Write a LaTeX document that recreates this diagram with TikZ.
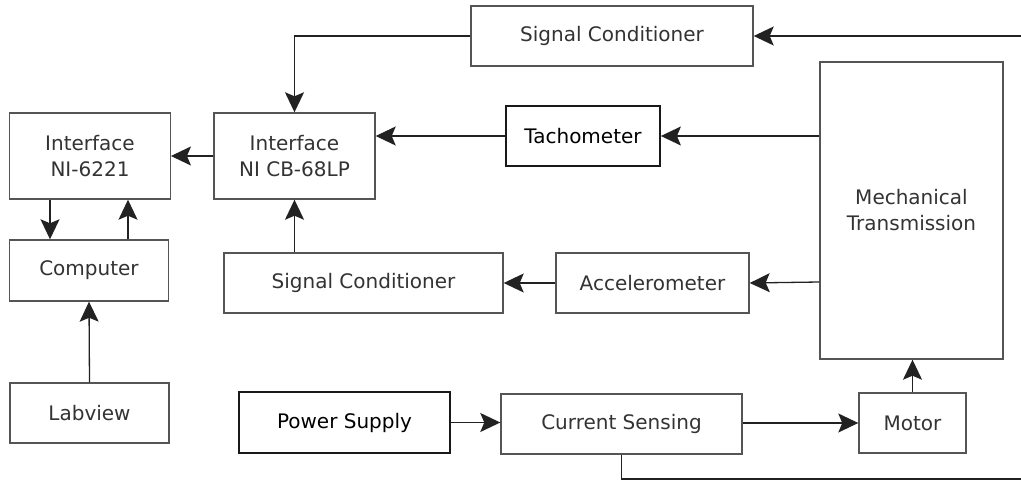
\documentclass[tikz,border=0pt]{standalone}
\usepackage{fontspec}
\setmainfont{DejaVu Sans}
\usetikzlibrary{arrows.meta,calc}
\definecolor{boxc}{HTML}{555555}
\definecolor{txtc}{HTML}{333333}
\definecolor{linec}{HTML}{222222}
\tikzset{
  blk/.style={draw=boxc,line width=1.4pt,rectangle,inner sep=0pt,text=txtc,align=center,
    font=\fontsize{20}{26}\selectfont},
  blkdark/.style={blk,draw=black!90,line width=1.8pt,text=black},
  conn/.style={draw=linec,line width=1.3pt,-{Stealth[length=20pt,width=19pt,inset=4pt]}},
  plain/.style={draw=linec,line width=1.3pt}
}
\begin{document}
\begin{tikzpicture}[x=1pt,y=-1pt]
\useasboundingbox[fill=white] (0,0) rectangle (1021,481);
\node[blk,minimum width=282pt,minimum height=60pt] (sctop) at (612,36) {Signal Conditioner};
\node[blk,minimum width=183pt,minimum height=297pt] (mt) at (911.5,210.5) {Mechanical\\Transmission};
\node[blkdark,minimum width=154pt,minimum height=60pt] (tach) at (583,136) {Tachometer};
\node[blk,minimum width=193pt,minimum height=60pt] (acc) at (652.5,283) {Accelerometer};
\node[blk,minimum width=160.5pt,minimum height=86pt] (ni) at (90,156) {Interface\\NI-6221};
\node[blk,minimum width=161pt,minimum height=86pt] (cb) at (294.5,156) {Interface\\NI CB-68LP};
\node[blk,minimum width=158.5pt,minimum height=61pt] (comp) at (89,270.5) {Computer};
\node[blk,minimum width=279pt,minimum height=60pt] (scbot) at (363.5,283) {Signal Conditioner};
\node[blk,minimum width=159pt,minimum height=60pt] (lab) at (89.5,413) {Labview};
\node[blkdark,minimum width=211pt,minimum height=61pt] (ps) at (344.5,422.5) {Power Supply};
\node[blk,minimum width=241pt,minimum height=60pt] (cs) at (621.5,424) {Current Sensing};
\node[blk,minimum width=107pt,minimum height=60pt] (motor) at (912.5,423) {Motor};
\coordinate (inR) at (1021,36);
\coordinate (outR) at (1021,479);
\draw[conn] (inR) -- (sctop.east);
\draw[conn] (sctop.west) -| (cb.north);
\draw[conn] (tach.east -| mt.west) -- (tach.east);
\draw[conn] (tach.west) -- (tach.west -| cb.east);
\draw[conn] (cb.west) -- (ni.east);
\draw[conn] ([xshift=-40pt]ni.south) -- ([xshift=-39pt]comp.north);
\draw[conn] ([xshift=39pt]comp.north) -- ([xshift=38pt]ni.south);
\draw[conn] (lab.north) -- (comp.south);
\draw[conn] (cb.south |- scbot.north) -- (cb.south);
\draw[conn] (acc.west) -- (scbot.east);
\draw[conn] ([yshift=1pt]acc.east -| mt.west) -- (acc.east);
\draw[conn] (ps.east) -- (ps.east -| cs.west);
\draw[conn] (cs.east |- motor.west) -- (motor.west);
\draw[conn] (motor.north) -- (motor.north |- mt.south);
\draw[plain] (cs.south) |- (outR);
\end{tikzpicture}
\end{document}
